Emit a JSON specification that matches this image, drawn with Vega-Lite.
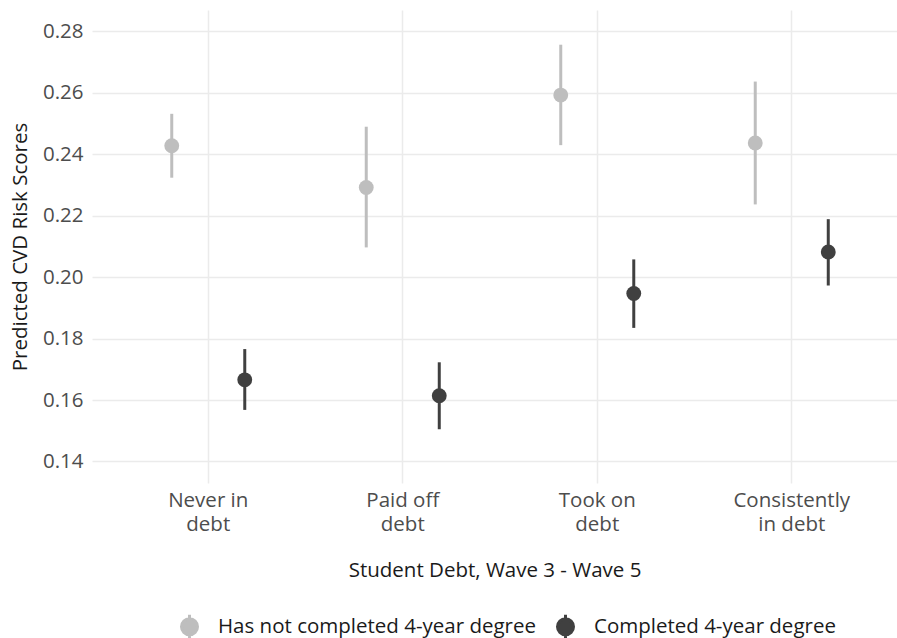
{
  "$schema": "https://vega.github.io/schema/vega-lite/v6.json",
  "width": 805,
  "height": 473,
  "autosize": {"type": "none"},
  "padding": {"left": 92, "top": 10, "right": 0, "bottom": 155},
  "background": "white",
  "config": {"view": {"stroke": null}, "font": "Open Sans"},
  "data": {
    "values": [
      {"debt": "Never in\ndebt", "degree": "Has not completed 4-year degree", "est": 0.2428, "lo": 0.2324, "hi": 0.2532},
      {"debt": "Never in\ndebt", "degree": "Completed 4-year degree", "est": 0.1666, "lo": 0.1568, "hi": 0.1766},
      {"debt": "Paid off\ndebt", "degree": "Has not completed 4-year degree", "est": 0.2292, "lo": 0.2097, "hi": 0.2490},
      {"debt": "Paid off\ndebt", "degree": "Completed 4-year degree", "est": 0.1614, "lo": 0.1505, "hi": 0.1723},
      {"debt": "Took on\ndebt", "degree": "Has not completed 4-year degree", "est": 0.2593, "lo": 0.2430, "hi": 0.2757},
      {"debt": "Took on\ndebt", "degree": "Completed 4-year degree", "est": 0.1947, "lo": 0.1835, "hi": 0.2058},
      {"debt": "Consistently\nin debt", "degree": "Has not completed 4-year degree", "est": 0.2437, "lo": 0.2237, "hi": 0.2637},
      {"debt": "Consistently\nin debt", "degree": "Completed 4-year degree", "est": 0.2082, "lo": 0.1973, "hi": 0.2189}
    ]
  },
  "encoding": {
    "x": {
      "field": "debt",
      "type": "nominal",
      "sort": ["Never in\ndebt", "Paid off\ndebt", "Took on\ndebt", "Consistently\nin debt"],
      "scale": {"type": "band", "paddingInner": 0, "paddingOuter": 0.0694, "align": 0.704},
      "title": "Student Debt, Wave 3 - Wave 5",
      "axis": {
        "labelExpr": "split(datum.label, '\\n')",
        "labelAngle": 0,
        "labelFontSize": 20.5,
        "labelColor": "#4d4d4d",
        "labelLineHeight": 24,
        "labelPadding": 7,
        "labelLimit": 0,
        "ticks": false,
        "domain": false,
        "grid": true,
        "gridColor": "#ebebeb",
        "gridWidth": 1.5,
        "titleFontSize": 20.5,
        "titleFontWeight": "normal",
        "titleColor": "#1a1a1a",
        "titlePadding": 26
      }
    },
    "xOffset": {
      "field": "degree",
      "type": "nominal",
      "sort": ["Has not completed 4-year degree", "Completed 4-year degree"],
      "scale": {"paddingInner": 0, "paddingOuter": 0.332}
    },
    "color": {
      "field": "degree",
      "type": "nominal",
      "sort": ["Has not completed 4-year degree", "Completed 4-year degree"],
      "scale": {"domain": ["Has not completed 4-year degree", "Completed 4-year degree"], "range": ["#bebebe", "#404040"]},
      "legend": {
        "title": null,
        "orient": "none",
        "direction": "horizontal",
        "legendX": 84,
        "legendY": 603,
        "labelFontSize": 20.5,
        "labelColor": "#1a1a1a",
        "labelLimit": 0,
        "symbolType": "M-0.667,0A0.667,0.667,0,1,0,0.667,0A0.667,0.667,0,1,0,-0.667,0ZM0,-1L0,1",
        "symbolSize": 576,
        "symbolStrokeWidth": 3,
        "symbolOpacity": 1,
        "labelOffset": 15,
        "columnPadding": 15,
        "encode": {"symbols": {"update": {"stroke": {"scale": "color", "field": "value"}, "strokeWidth": {"value": 3}}}}
      }
    }
  },
  "layer": [
    {
      "mark": {"type": "rule", "strokeWidth": 3},
      "encoding": {
        "y": {
          "field": "lo",
          "type": "quantitative",
          "title": "Predicted CVD Risk Scores",
          "scale": {"domain": [0.133, 0.287], "nice": false, "zero": false}
        },
        "y2": {"field": "hi"}
      }
    },
    {
      "mark": {"type": "point", "filled": true, "size": 220, "opacity": 1},
      "encoding": {
        "y": {
          "field": "est",
          "type": "quantitative",
          "title": "Predicted CVD Risk Scores",
          "scale": {"domain": [0.133, 0.287], "nice": false, "zero": false},
          "axis": {
            "values": [0.14, 0.15, 0.16, 0.17, 0.18, 0.19, 0.2, 0.21, 0.22, 0.23, 0.24, 0.25, 0.26, 0.27, 0.28],
            "labelExpr": "round(datum.value*100) % 2 == 0 ? format(datum.value, '.2f') : ''",
            "labelFontSize": 20.5,
            "labelColor": "#4d4d4d",
            "labelPadding": 9,
            "ticks": false,
            "domain": false,
            "grid": true,
            "gridColor": "#ebebeb",
            "gridWidth": {"condition": {"test": "round(datum.value*100) % 2 == 0", "value": 1.6}, "value": 0.8},
            "titleFontSize": 20.5,
            "titleFontWeight": "normal",
            "titleColor": "#1a1a1a",
            "titlePadding": 12
          }
        }
      }
    }
  ]
}
